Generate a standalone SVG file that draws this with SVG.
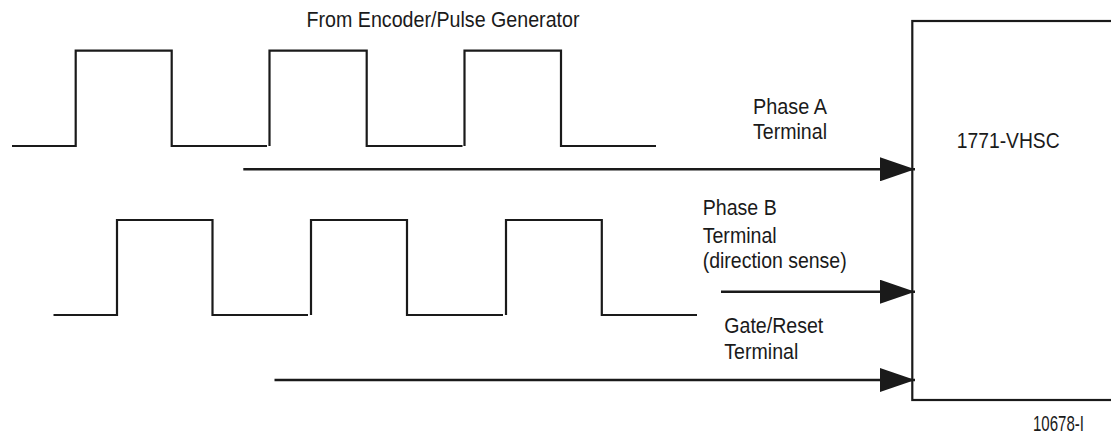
<svg xmlns="http://www.w3.org/2000/svg" width="1111" height="436" viewBox="0 0 1111 436">
<style>
text { font-family: "Liberation Sans", Arial, sans-serif; font-size: 22px; fill: #1a1a1a; }
.wave { fill: none; stroke: #1a1a1a; stroke-width: 2.2; stroke-linejoin: miter; }
.conn { stroke: #1a1a1a; stroke-width: 2.4; fill: none; marker-end: url(#arrow); }
.box { fill: #ffffff; stroke: #1a1a1a; stroke-width: 2.2; }
</style>
<defs>
<marker id="arrow" markerUnits="userSpaceOnUse" markerWidth="36" markerHeight="24" refX="35" refY="12" orient="auto">
<path d="M0,0 L35,12 L0,24 Z" fill="#1a1a1a"/>
</marker>
</defs>
<rect width="1111" height="436" fill="#ffffff"/>
<g id="label-source">
<text x="306.5" y="26.7" font-size="20" textLength="273" lengthAdjust="spacingAndGlyphs">From Encoder/Pulse Generator</text>
</g>
<g id="waveform-a">
<polyline class="wave" points="12,146 75.7,146 75.7,50.7 171.7,50.7 171.7,146 267,146"/>
<polyline class="wave" points="269.5,146 269.5,50.7 366.7,50.7 366.7,146 462.5,146"/>
<polyline class="wave" points="464.5,146 464.5,50.7 561,50.7 561,146 656,146"/>
</g>
<g id="waveform-b">
<polyline class="wave" points="53.5,315 117,315 117,220 212.5,220 212.5,315 308,315"/>
<polyline class="wave" points="311,315 311,220 407,220 407,315 503,315"/>
<polyline class="wave" points="506,315 506,220 601.8,220 601.8,315 697,315"/>
</g>
<g id="node-vhsc">
<rect class="box" x="912.3" y="21" width="210" height="379"/>
<text x="956.7" y="148.3" textLength="103" lengthAdjust="spacingAndGlyphs">1771-VHSC</text>
</g>
<g id="connectors">
<line class="conn" x1="243.3" y1="169.3" x2="915" y2="169.3"/>
<line class="conn" x1="721" y1="291.7" x2="915" y2="291.7"/>
<line class="conn" x1="274.5" y1="380" x2="915" y2="380"/>
</g>
<g id="labels">
<text x="753" y="114.3" textLength="74" lengthAdjust="spacingAndGlyphs">Phase A</text>
<text x="753" y="139.3" textLength="74" lengthAdjust="spacingAndGlyphs">Terminal</text>
<text x="702.7" y="215" textLength="74" lengthAdjust="spacingAndGlyphs">Phase B</text>
<text x="702.7" y="242.7" textLength="74" lengthAdjust="spacingAndGlyphs">Terminal</text>
<text x="702.7" y="268" textLength="144" lengthAdjust="spacingAndGlyphs">(direction sense)</text>
<text x="724.3" y="333.3" textLength="99" lengthAdjust="spacingAndGlyphs">Gate/Reset</text>
<text x="724.3" y="359.3" textLength="74" lengthAdjust="spacingAndGlyphs">Terminal</text>
<text x="1033" y="431" font-size="16" textLength="51" lengthAdjust="spacingAndGlyphs">10678-I</text>
</g>
</svg>
